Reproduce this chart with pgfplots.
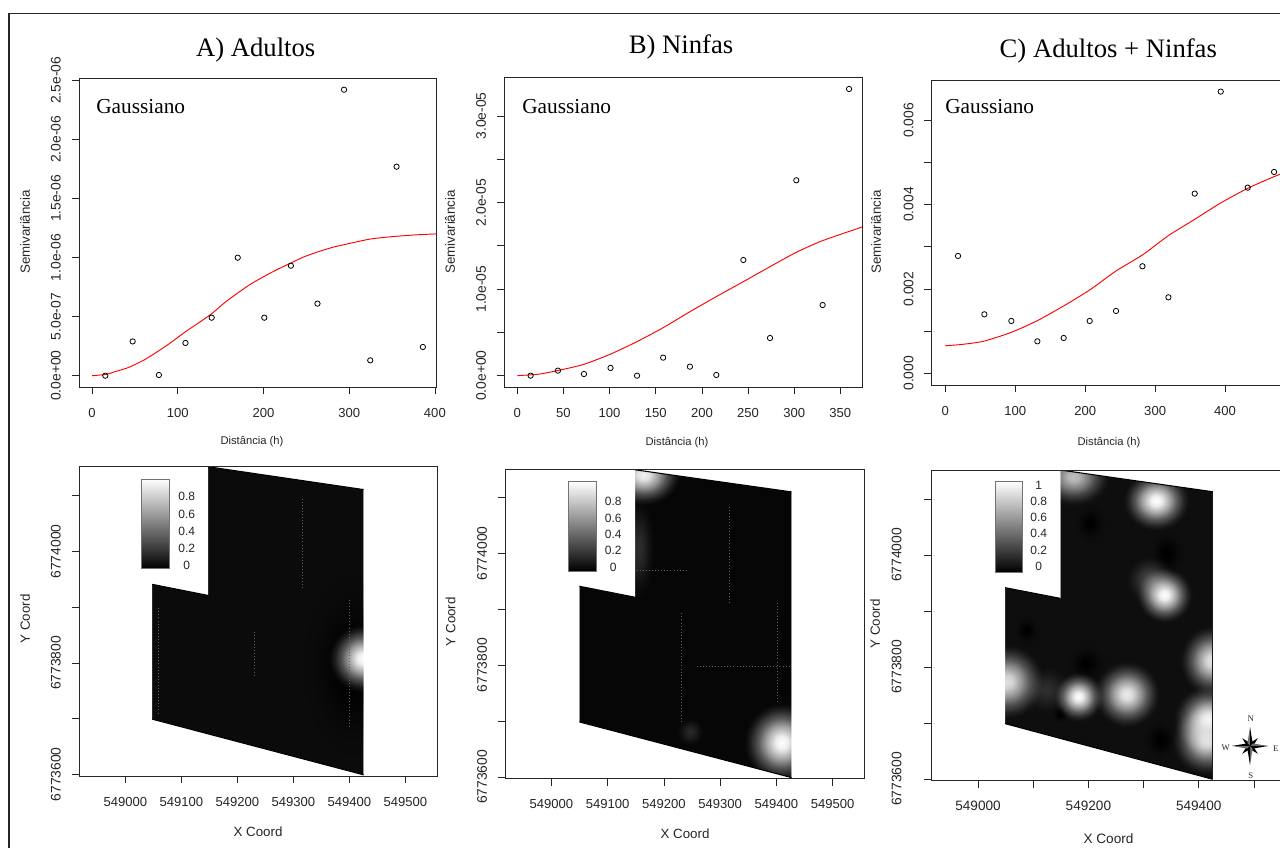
\documentclass[border=0pt]{standalone}
\usepackage{fontspec}
\setmainfont{Liberation Sans}
\newfontfamily\serif{Liberation Serif}
\usepackage{pgfplots}
\pgfplotsset{compat=1.18}
\usetikzlibrary{fadings}
\definecolor{ink}{HTML}{262626}
\definecolor{bgA}{HTML}{0B0B0B}
\definecolor{bgB}{HTML}{060606}
\definecolor{bgC}{HTML}{0E0E0E}
\newcommand\fs[1]{\fontsize{#1}{#1}\selectfont}
\pgfdeclareradialshading{blobmask}{\pgfpointorigin}{%
 color(0bp)=(white);color(8bp)=(white!93!black);color(20bp)=(white!62!black);color(30bp)=(white!32!black);color(40bp)=(white!10!black);color(46bp)=(white!1.5!black);color(50bp)=(black)}
\pgfdeclarefading{blobfade}{\pgfuseshading{blobmask}}
\pgfdeclareplotmark{blob}{%
 \pgfpathcircle{\pgfpointorigin}{\pgfplotmarksize}%
 \pgfsetfadingforcurrentpath{blobfade}{\pgftransformscale{.4}}%
 \pgfusepath{fill}}
\newcommand\blob[5]{\addplot[only marks,mark=blob,mark size=#3pt,mark options={fill=#5,draw=none,yscale=#4}] coordinates {(#1,#2)};}
\newcommand\spots[1]{\addplot[black!62,line width=.3pt,dash pattern=on .5pt off 1.8pt] coordinates {#1};}
\pgfplotsset{
 rbase/.style={scale only axis,anchor=south west,axis on top,clip marker paths=true,
  tick align=outside,xtick pos=bottom,ytick pos=left,major tick length=5.5pt,
  tick style={draw=ink,line width=.55pt},axis line style={draw=ink,line width=.6pt},
  xticklabel style={font=\fs{9.8},text=ink,inner sep=0pt,anchor=north,yshift=-10pt},
  yticklabel style={font=\fs{10.4},text=ink,rotate=90,inner sep=0pt,anchor=south,yshift=8pt}},
 pts/.style={only marks,mark=o,mark size=2pt,mark options={draw=black,line width=.6pt,fill=none}},
 fit/.style={red,line width=.7pt,smooth,tension=.4},
 edge/.style={black,line width=.8pt},
 % map axes: data are metres east of 549000 and north of 6773600
 rmap/.style={rbase,xtick={0,100,200,300,400,500},
  ytick={0,100,200,300,400,500},yticklabels={6773600,,6773800,,6774000,}}
}
\begin{document}
\begin{tikzpicture}[x=.75pt,y=.75pt]
\path[use as bounding box,fill=white] (0,0) rectangle (1280,848);
\clip (0,0) rectangle (1280,848);
\draw[black!85,line width=1.1pt] (9,{848-13.5}) rectangle (1320,-20);

% ---------- A semivariogram
\begin{axis}[rbase,at={(59.25pt,345.75pt)},width=268pt,height=231.4pt,
 xmin=-15.2,xmax=401.7,ymin=-0.0957,ymax=2.516,
 xtick={0,100,200,300,400},xticklabels={0,100,200,300,400},
 ytick={0,0.5,1,1.5,2,2.5},yticklabels={0.0e+00,5.0e-07,1.0e-06,1.5e-06,2.0e-06,2.5e-06}]
\addplot[fit] coordinates {(0,0)(17,.011)(25,.03)(42,.068)(60,.13)(75,.197)(90,.27)(109,.372)(125,.45)(140,.527)(155,.62)(170,.70)(185,.775)(201,.841)(215,.895)(232,.954)(247,1.005)(263,1.047)(280,1.085)(294,1.109)(310,1.135)(325,1.157)(340,1.17)(355,1.18)(380,1.193)(401.7,1.2)};
\addplot[pts] coordinates {(15.5,0)(47.4,.29)(78,.006)(109,.277)(139.6,.491)(170,.999)(201,.491)(232,.931)(263,.61)(294,2.421)(324.6,.13)(355.3,1.769)(386,.243)};
\end{axis}

% ---------- B semivariogram
\begin{axis}[rbase,at={(378.225pt,345.75pt)},width=268.5pt,height=232pt,
 xmin=-14.1,xmax=373.8,ymin=-0.131,ymax=3.443,
 xtick={0,50,100,150,200,250,300,350},xticklabels={0,50,100,150,200,250,300,350},
 ytick={0,.5,1,1.5,2,2.5,3},yticklabels={0.0e+00,,1.0e-05,,2.0e-05,,3.0e-05}]
\addplot[fit] coordinates {(0,0)(24.6,.019)(49.8,.073)(72.2,.131)(100.4,.246)(129.7,.393)(158,.554)(187,.739)(215.6,.913)(244.9,1.086)(273.8,1.259)(302.3,1.425)(330.8,1.56)(373.8,1.718)};
\addplot[pts] coordinates {(14.4,0)(44,.058)(72.2,.019)(101,.089)(129.7,0)(158,.208)(187,.104)(215.6,.008)(244.9,1.336)(273.8,.435)(302.3,2.257)(330.8,.816)(359.4,3.312)};
\end{axis}

% ---------- C semivariogram
\begin{axis}[rbase,at={(698.775pt,347.25pt)},width=264.8pt,height=228.8pt,
 xmin=-19.5,xmax=485.4,ymin=-0.277,ymax=6.957,
 xtick={0,100,200,300,400},xticklabels={0,100,200,300,400},
 ytick={0,1,2,3,4,5,6},yticklabels={0.000,,0.002,,0.004,,0.006}]
\addplot[fit] coordinates {(0,.656)(21,.680)(54.4,.759)(94.4,.972)(131.6,1.249)(169.2,1.597)(206.4,1.976)(244.1,2.427)(281.8,2.806)(319,3.265)(356.6,3.652)(393.8,4.040)(432.4,4.387)(470.1,4.664)(485.4,4.76)};
\addplot[pts] coordinates {(18.1,2.783)(55.8,1.399)(94.4,1.241)(131.6,.759)(169.2,.838)(206.4,1.241)(244.1,1.478)(281.8,2.538)(319,1.802)(356.6,4.261)(393.8,6.68)(432.4,4.403)(470.1,4.775)};
\end{axis}

% ---------- A map
\begin{axis}[rmap,at={(59.25pt,54pt)},width=268.5pt,height=231.9pt,
 xmin=-82.7,xmax=556.5,ymin=-3,ymax=551.9,
 xticklabels={549000,549100,549200,549300,549400,549500}]
\addplot[fill=bgA,draw=none] coordinates {(48,99)(425.6,-1)(425.6,511)(148,552)(148,321)(48,341)} --cycle;
\blob{405}{195}{46}{1.85}{black}
\blob{423.8}{208}{33}{1}{white}
\spots{(316,495)(316,331)}
\spots{(230,256)(230,175)}
\spots{(59,298)(59,109)}
\spots{(400,313)(400,85)}
\addplot[fill=white,draw=none] coordinates {(-100,-10)(-100,560)(570,560)(570,-10)(-100,-10)(48,99)(425.6,-1)(425.6,511)(148,552)(148,321)(48,341)(48,99)} --cycle;
\addplot[edge] coordinates {(48,341)(148,321)};
\addplot[edge] coordinates {(148,552)(425.6,511)};
\addplot[edge] coordinates {(48,99)(425.6,-1)};
\end{axis}

% ---------- B map
\begin{axis}[rmap,at={(378.975pt,52.275pt)},width=269.3pt,height=231.8pt,
 xmin=-81.8,xmax=556.3,ymin=-2.4,ymax=551,
 xticklabels={549000,549100,549200,549300,549400,549500}]
\addplot[fill=bgB,draw=none] coordinates {(49.8,98.5)(427,-1.2)(427,510.4)(148.7,550)(148.7,321.8)(49.8,341.5)} --cycle;
\blob{155}{410}{16}{3.2}{white!18!black}
\blob{246.4}{81}{14}{1}{white!16!black}
\blob{163.5}{541}{36}{.82}{white!95!black}
\blob{409.4}{61.5}{37}{1.05}{white}
\spots{(151.7,369.6)(243.5,369.6)}
\spots{(258.3,198)(427,198)}
\spots{(316.4,484)(316.4,311)}
\spots{(231.6,293)(231.6,96)}
\spots{(401.7,311)(401.7,132)}
\addplot[fill=white,draw=none] coordinates {(-100,-10)(-100,560)(570,560)(570,-10)(-100,-10)(49.8,98.5)(427,-1.2)(427,510.4)(148.7,550)(148.7,321.8)(49.8,341.5)(49.8,98.5)} --cycle;
\addplot[edge] coordinates {(49.8,341.5)(148.7,321.8)};
\addplot[edge] coordinates {(148.7,550)(427,510.4)};
\addplot[edge] coordinates {(49.8,98.5)(427,-1.2)};
\end{axis}

% ---------- C map
\begin{axis}[rmap,at={(698.775pt,50.775pt)},width=264.8pt,height=232.7pt,
 xmin=-84,xmax=556,ymin=-2.4,ymax=551.8,
 xticklabels={549000,,549200,,549400,},
 xticklabel style={font=\fs{10.2}},
 yticklabel style={font=\fs{10.4},yshift=9pt}]
\addplot[fill=bgC,draw=none] coordinates {(49,98.8)(425.4,-.6)(425.4,513)(149.2,551.8)(149.2,322.6)(49,341.7)} --cycle;
\blob{203}{456.5}{15}{1.2}{black}
\blob{88}{266}{12}{1.2}{black}
\blob{197}{206.5}{18}{1}{black}
\blob{330}{70}{16}{1.2}{black}
\blob{342}{403}{16}{1.4}{black}
\blob{149}{117}{9}{1}{black}
\blob{124.5}{159}{24}{1}{white!18!black}
\blob{172.8}{539.9}{35}{.8}{white!75!black}
\blob{322.7}{497}{32}{.9}{white}
\blob{312}{355}{24}{1}{white!30!black}
\blob{337.8}{328.6}{27}{1}{white}
\blob{423.6}{211.3}{31}{1.1}{white!90!black}
\blob{52}{173.8}{36}{1}{white!88!black}
\blob{181.9}{147}{24}{1}{white}
\blob{269.5}{151.2}{32}{1}{white!92!black}
\blob{417.5}{105}{34}{1}{white}
\blob{414.5}{69.6}{34}{1}{white!90!black}
\addplot[fill=white,draw=none] coordinates {(-100,-10)(-100,560)(570,560)(570,-10)(-100,-10)(49,98.8)(425.4,-.6)(425.4,513)(149.2,551.8)(149.2,322.6)(49,341.7)(49,98.8)} --cycle;
\addplot[edge] coordinates {(49,341.7)(149.2,322.6)};
\addplot[edge] coordinates {(149.2,551.8)(425.4,513)};
\addplot[edge] coordinates {(49,98.8)(425.4,-.6)};
\addplot[black!90,line width=.8pt] coordinates {(425.4,-.6)(425.4,513)};
\end{axis}

% ---------- colour bars
\foreach \xa/\xb/\ya/\yb in {141.3/169.7/479/568.7,568/596.3/481.7/571,995/1022.7/481.7/572.3}{
 \path[bottom color=black,top color=white,draw=black!55,line width=.45pt] (\xa,{848-\yb}) rectangle (\xb,{848-\ya});}
\foreach \t/\y in {0.8/496.7,0.6/514.3,0.4/531.7,0.2/548.7,0/565.7}
 \node[font=\fs{9},text=ink,inner sep=0pt] at (186.7,{848-\y}) {\t};
\foreach \t/\y in {0.8/501,0.6/518,0.4/534,0.2/550,0/567.7}
 \node[font=\fs{9},text=ink,inner sep=0pt] at (613.3,{848-\y}) {\t};
\foreach \t/\y in {1/485.3,0.8/501.7,0.6/517.7,0.4/533.7,0.2/550,0/566.3}
 \node[font=\fs{9},text=ink,inner sep=0pt] at (1038.7,{848-\y}) {\t};

% ---------- titles and labels
\node[font=\serif\fs{20},anchor=base,inner sep=0pt] at (255.7,{848-56.7}) {A) Adultos};
\node[font=\serif\fs{20},anchor=base,inner sep=0pt] at (681,{848-53.5}) {B) Ninfas};
\node[font=\serif\fs{20},anchor=base,inner sep=0pt] at (1108.3,{848-57.3}) {C) Adultos + Ninfas};
\foreach \x in {96,522,945}
 \node[font=\serif\fs{16},anchor=base west,inner sep=0pt] at (\x,{848-113.3}) {Gaussiano};
\foreach \x in {25,450,876}
 \node[font=\fs{10},text=ink,rotate=90,inner sep=0pt] at (\x,{848-232}) {Semivariância};
\foreach \x/\y in {252/442,677/443,1109/443}
 \node[font=\fs{8.4},text=ink,inner sep=0pt] at (\x,{848-\y}) {Distância (h)};
\foreach \x/\y in {25/619,450.7/621.7,875/624}
 \node[font=\fs{10},text=ink,rotate=90,inner sep=0pt] at (\x,{848-\y}) {Y Coord};
\foreach \x/\y/\s in {258/832/10,685/834/10,1108.5/839/10.2}
 \node[font=\fs{\s},text=ink,inner sep=0pt] at (\x,{848-\y}) {X Coord};

% ---------- compass
\begin{scope}[shift={(1250,102)}]
\foreach \a in {45,135,225,315}
 \fill[black,rotate=\a] (0,0) -- (2.2,2.2) -- (11,0) -- (2.2,-2.2) -- cycle;
\foreach \a/\l in {0/18,90/19,180/18,270/19}{
 \fill[black!55,rotate=\a] (0,0) -- (\l,0) -- (3,2.6) -- cycle;
 \fill[black,rotate=\a] (0,0) -- (\l,0) -- (3,-2.6) -- cycle;}
\end{scope}
\foreach \t/\x/\y in {N/1250.7/718.3,S/1250.7/775.7,W/1225.7/748,E/1275.7/749}
 \node[font=\serif\fs{6.5},text=ink,inner sep=0pt] at (\x,{848-\y}) {\t};
\end{tikzpicture}
\end{document}
